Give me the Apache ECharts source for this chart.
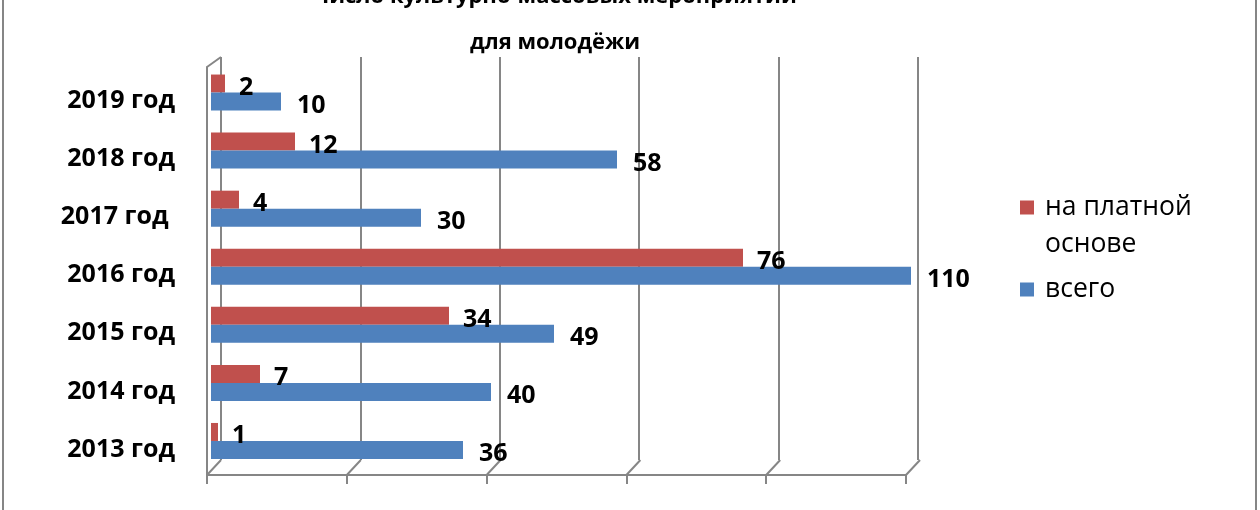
<!DOCTYPE html>
<html>
<head>
<meta charset="utf-8">
<script src="https://cdn.jsdelivr.net/npm/echarts@6/dist/echarts.min.js"></script>
<style>html,body{margin:0;padding:0;background:#fff;}#c{width:1260px;height:510px;}</style>
</head>
<body>
<div id="c"></div>
<script>
var categories = ['2013 год', '2014 год', '2015 год', '2016 год', '2017 год ', '2018 год', '2019 год'];
var paidValues = [1, 7, 34, 76, 4, 12, 2];
var totalValues = [36, 40, 49, 110, 30, 58, 10];
var seriesNames = ['на платной основе', 'всего'];
var xTicks = [0, 20, 40, 60, 80, 100];
var titleText = 'Число культурно-массовых мероприятий\nдля молодёжи';

var FONT = 'Open Sans';
var GRAY = '#868686';
var chart = echarts.init(document.getElementById('c'), null, {renderer: 'canvas'});

var valueAxisBase = {
  type: 'value', min: 0, max: 100, interval: 20,
  axisLabel: {show: false}, axisTick: {show: false}, axisLine: {show: false}, splitLine: {show: false}
};

var option = {
  animation: false,
  backgroundColor: '#fff',
  title: {
    text: titleText,
    left: 555, top: -26.5, padding: 0,
    textAlign: 'center',
    textStyle: {fontFamily: FONT, fontSize: 22, fontWeight: 'bold', color: '#000', lineHeight: 46}
  },
  legend: {
    orient: 'vertical', left: 1020, top: 152, itemWidth: 14, itemHeight: 14, itemGap: 8,
    icon: 'rect', padding: 0,
    data: seriesNames,
    formatter: function (n) { return n === seriesNames[0] ? '\nна платной\nоснове' : n; },
    textStyle: {fontFamily: FONT, fontSize: 26.5, color: '#000', lineHeight: 37, padding: [0, 0, 0, 6]}
  },
  graphic: [{
    type: 'rect', silent: true, z: -1,
    shape: {x: 3, y: -10, width: 1253, height: 530},
    style: {fill: 'none', stroke: GRAY, lineWidth: 2}
  }],
  grid: [
    {left: 211, width: 700, top: 63.5, height: 406.5},
    {left: 221, width: 697, top: 57, height: 403},
    {left: 207, width: 699, top: 67, height: 408}
  ],
  xAxis: [
    Object.assign({}, valueAxisBase, {gridIndex: 0}),
    Object.assign({}, valueAxisBase, {gridIndex: 1, splitLine: {show: true, lineStyle: {color: GRAY, width: 2}}}),
    Object.assign({}, valueAxisBase, {gridIndex: 2,
      axisLine: {show: true, lineStyle: {color: GRAY, width: 2}},
      axisTick: {show: true, length: 9, inside: false, lineStyle: {color: GRAY, width: 2}}})
  ],
  yAxis: [
    {
      type: 'category', gridIndex: 0, data: categories,
      axisLine: {show: false}, axisTick: {show: false}, splitLine: {show: false},
      axisLabel: {margin: 36, fontFamily: FONT, fontSize: 25, fontWeight: 'bold', color: '#000',
        verticalAlign: 'top', lineHeight: 17}
    },
    {type: 'value', gridIndex: 1, min: 0, max: 1, show: false},
    {type: 'value', gridIndex: 2, min: 0, max: 1,
      axisLine: {show: true, lineStyle: {color: GRAY, width: 2}},
      axisLabel: {show: false}, axisTick: {show: false}, splitLine: {show: false}}
  ],
  series: [
    {
      name: seriesNames[0], type: 'bar', xAxisIndex: 0, yAxisIndex: 0,
      data: paidValues, barWidth: 18, barGap: '0%', clip: true,
      itemStyle: {color: '#C0504D'},
      label: {show: true, position: 'right', distance: 14, offset: [0, 4], fontFamily: FONT, fontSize: 25, fontWeight: 'bold', color: '#000'}
    },
    {
      name: seriesNames[1], type: 'bar', xAxisIndex: 0, yAxisIndex: 0,
      data: totalValues, barWidth: 18, barGap: '0%', clip: true,
      itemStyle: {color: '#4F81BD'},
      label: {show: true, position: 'right', distance: 16, offset: [0, 4], fontFamily: FONT, fontSize: 25, fontWeight: 'bold', color: '#000'}
    },
    {
      type: 'custom', xAxisIndex: 2, yAxisIndex: 2, silent: true, z: 1,
      data: xTicks,
      renderItem: function (params, api) {
        var p = api.coord([api.value(0), 0]);
        return {type: 'line', shape: {x1: p[0], y1: p[1], x2: p[0] + 14, y2: p[1] - 15},
          style: {stroke: GRAY, lineWidth: 2}};
      }
    },
    {
      type: 'custom', xAxisIndex: 2, yAxisIndex: 2, silent: true, z: 1,
      data: [xTicks[0]],
      renderItem: function (params, api) {
        var p = api.coord([api.value(0), 1]);
        return {type: 'line', shape: {x1: p[0], y1: p[1], x2: p[0] + 14, y2: p[1] - 10},
          style: {stroke: GRAY, lineWidth: 2}};
      }
    }
  ]
};
chart.setOption(option);
</script>
</body>
</html>
